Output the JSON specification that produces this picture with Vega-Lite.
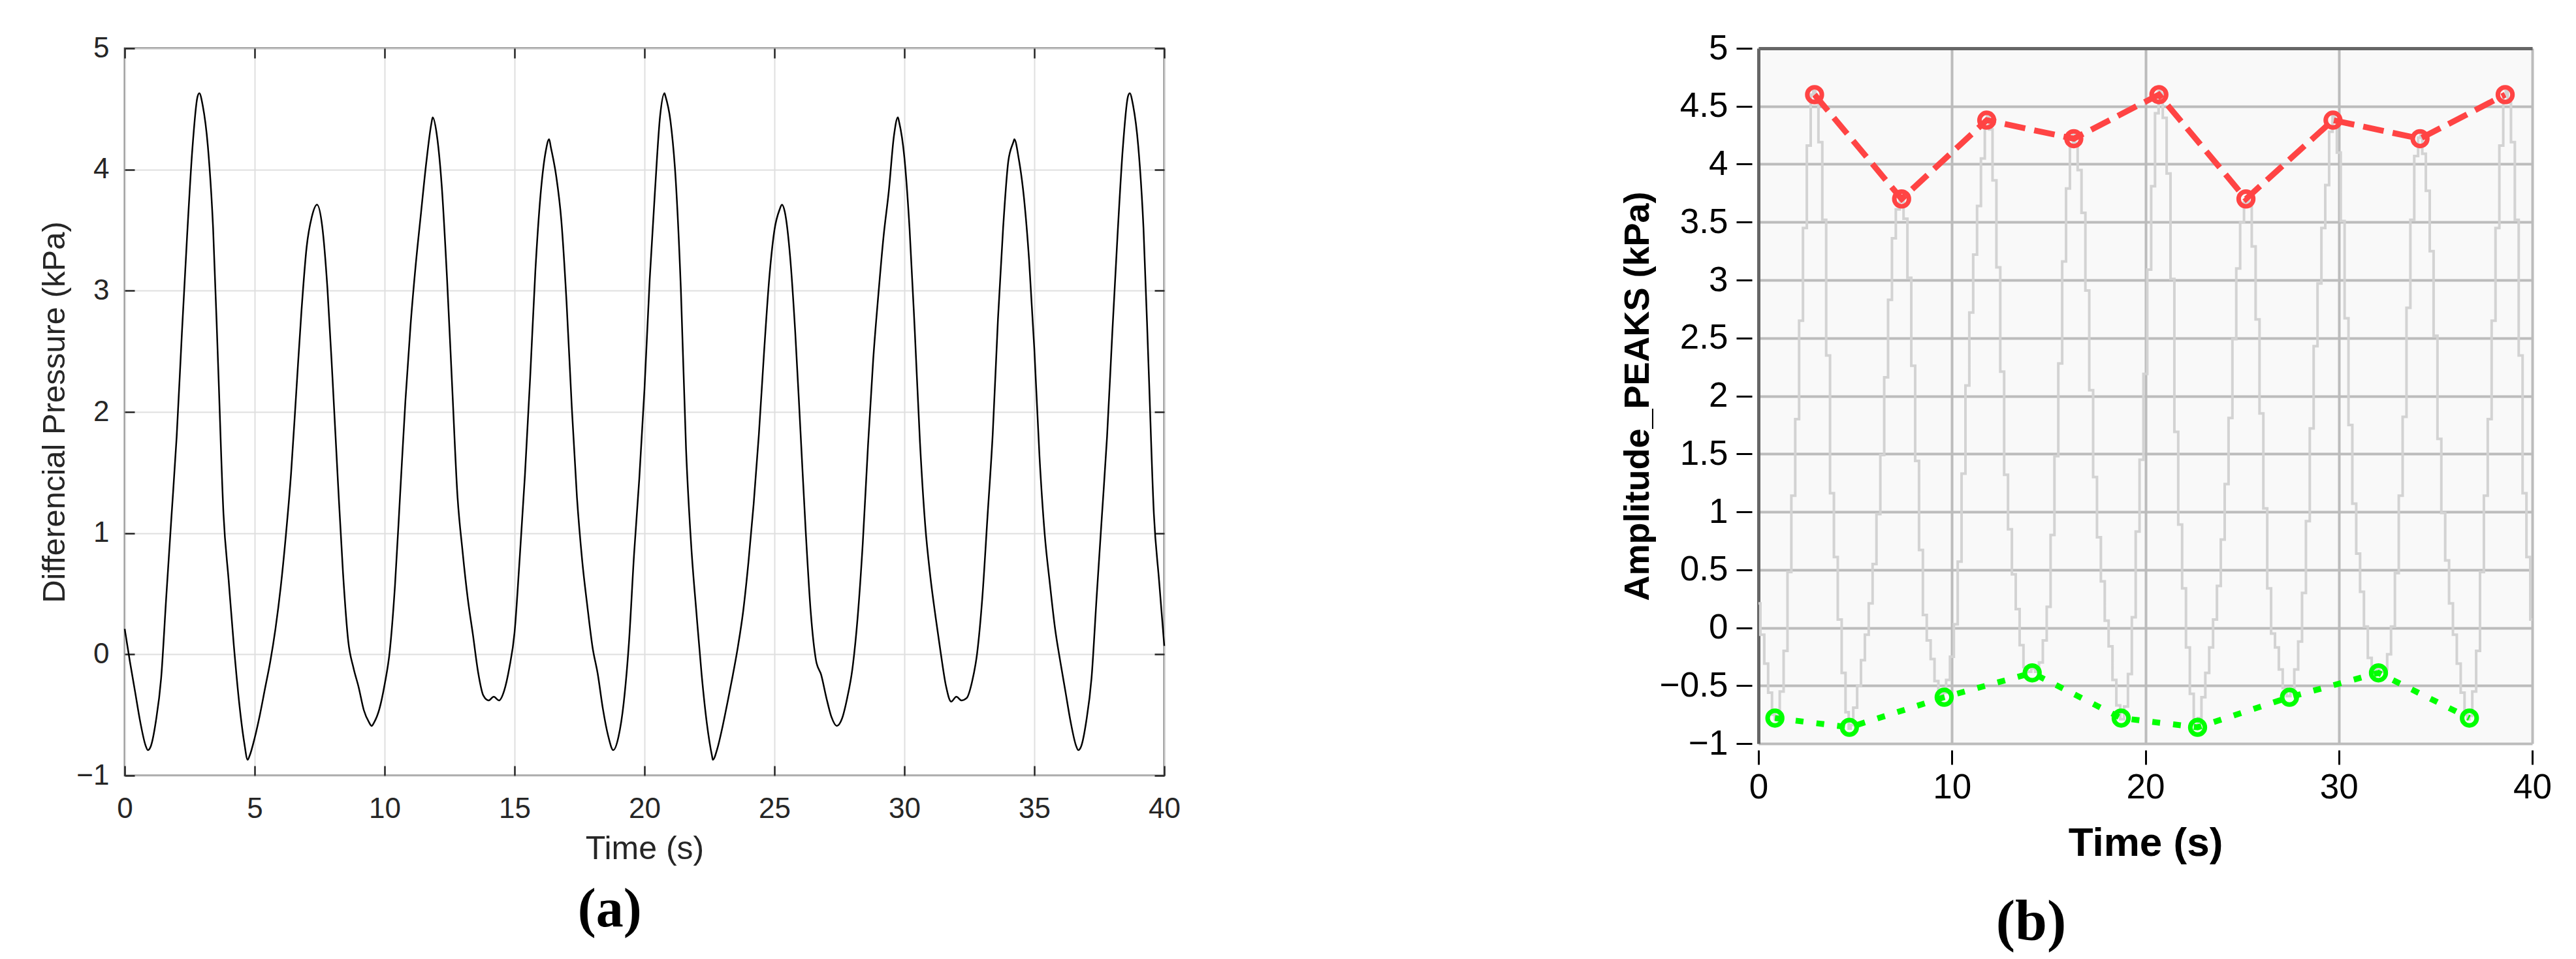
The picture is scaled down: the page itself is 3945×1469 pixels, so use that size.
{
  "$schema": "https://vega.github.io/schema/vega-lite/v6.json",
  "background": "white",
  "padding": {"left": 58, "top": 48, "right": 5, "bottom": 5},
  "datasets": {
    "sig": [
      {"t":0,"v":0.21},{"t":0.2,"v":-0.06},{"t":0.4,"v":-0.31},{"t":0.6,"v":-0.56},{"t":0.8,"v":-0.75},{"t":0.89,"v":-0.79},
      {"t":1.0,"v":-0.76},{"t":1.2,"v":-0.55},{"t":1.4,"v":-0.2},{"t":1.6,"v":0.48},{"t":1.8,"v":1.14},{"t":2.0,"v":1.8},
      {"t":2.2,"v":2.65},{"t":2.4,"v":3.45},{"t":2.6,"v":4.16},{"t":2.8,"v":4.6},{"t":2.87,"v":4.63},{"t":3.0,"v":4.53},
      {"t":3.2,"v":4.19},{"t":3.4,"v":3.52},{"t":3.6,"v":2.35},{"t":3.8,"v":1.16},{"t":4.0,"v":0.61},{"t":4.2,"v":0.07},
      {"t":4.4,"v":-0.39},{"t":4.6,"v":-0.73},{"t":4.73,"v":-0.87},{"t":4.8,"v":-0.84},{"t":5.0,"v":-0.69},{"t":5.2,"v":-0.5},
      {"t":5.4,"v":-0.28},{"t":5.6,"v":-0.06},{"t":5.8,"v":0.21},{"t":6.0,"v":0.55},{"t":6.2,"v":0.98},{"t":6.4,"v":1.49},
      {"t":6.6,"v":2.16},{"t":6.8,"v":2.83},{"t":7.0,"v":3.36},{"t":7.2,"v":3.61},{"t":7.4,"v":3.71},{"t":7.6,"v":3.53},
      {"t":7.8,"v":3.02},{"t":8.0,"v":2.26},{"t":8.2,"v":1.44},{"t":8.4,"v":0.67},{"t":8.6,"v":0.11},{"t":8.8,"v":-0.11},
      {"t":9.0,"v":-0.27},{"t":9.2,"v":-0.46},{"t":9.4,"v":-0.56},{"t":9.5,"v":-0.59},{"t":9.6,"v":-0.56},{"t":9.8,"v":-0.45},
      {"t":10.0,"v":-0.25},{"t":10.2,"v":0.03},{"t":10.4,"v":0.57},{"t":10.6,"v":1.33},{"t":10.8,"v":2.09},{"t":11.0,"v":2.72},
      {"t":11.2,"v":3.22},{"t":11.4,"v":3.64},{"t":11.6,"v":4.05},{"t":11.8,"v":4.38},{"t":11.85,"v":4.43},{"t":12.0,"v":4.3},
      {"t":12.2,"v":3.86},{"t":12.4,"v":3.11},{"t":12.6,"v":2.21},{"t":12.8,"v":1.32},{"t":13.0,"v":0.85},{"t":13.2,"v":0.46},
      {"t":13.4,"v":0.16},{"t":13.6,"v":-0.15},{"t":13.8,"v":-0.34},{"t":14.0,"v":-0.38},{"t":14.2,"v":-0.35},{"t":14.4,"v":-0.38},
      {"t":14.6,"v":-0.3},{"t":14.8,"v":-0.11},{"t":15.0,"v":0.18},{"t":15.2,"v":0.8},{"t":15.4,"v":1.48},{"t":15.6,"v":2.28},
      {"t":15.8,"v":3.16},{"t":16.0,"v":3.79},{"t":16.2,"v":4.15},{"t":16.33,"v":4.25},{"t":16.4,"v":4.18},{"t":16.6,"v":3.95},
      {"t":16.8,"v":3.58},{"t":17.0,"v":2.91},{"t":17.2,"v":2.05},{"t":17.4,"v":1.3},{"t":17.6,"v":0.78},{"t":17.8,"v":0.4},
      {"t":18.0,"v":0.06},{"t":18.2,"v":-0.16},{"t":18.4,"v":-0.45},{"t":18.6,"v":-0.67},{"t":18.8,"v":-0.79},{"t":19.0,"v":-0.68},
      {"t":19.2,"v":-0.4},{"t":19.4,"v":0.09},{"t":19.6,"v":0.83},{"t":19.8,"v":1.45},{"t":20.0,"v":2.19},{"t":20.2,"v":3.09},
      {"t":20.4,"v":3.81},{"t":20.6,"v":4.44},{"t":20.77,"v":4.63},{"t":20.8,"v":4.61},{"t":21.0,"v":4.4},{"t":21.2,"v":3.92},
      {"t":21.4,"v":3.01},{"t":21.6,"v":1.69},{"t":21.8,"v":0.89},{"t":22.0,"v":0.34},{"t":22.2,"v":-0.17},{"t":22.4,"v":-0.57},
      {"t":22.6,"v":-0.84},{"t":22.63,"v":-0.87},{"t":22.8,"v":-0.78},{"t":23.0,"v":-0.6},{"t":23.2,"v":-0.39},{"t":23.4,"v":-0.17},
      {"t":23.6,"v":0.07},{"t":23.8,"v":0.36},{"t":24.0,"v":0.76},{"t":24.2,"v":1.24},{"t":24.4,"v":1.81},{"t":24.6,"v":2.49},
      {"t":24.8,"v":3.1},{"t":25.0,"v":3.5},{"t":25.2,"v":3.67},{"t":25.29,"v":3.71},{"t":25.4,"v":3.65},{"t":25.6,"v":3.29},
      {"t":25.8,"v":2.66},{"t":26.0,"v":1.85},{"t":26.2,"v":1.03},{"t":26.4,"v":0.34},{"t":26.6,"v":-0.05},{"t":26.8,"v":-0.17},
      {"t":27.0,"v":-0.36},{"t":27.2,"v":-0.52},{"t":27.4,"v":-0.59},{"t":27.6,"v":-0.53},{"t":27.8,"v":-0.36},{"t":28.0,"v":-0.12},
      {"t":28.2,"v":0.3},{"t":28.4,"v":0.92},{"t":28.6,"v":1.72},{"t":28.8,"v":2.43},{"t":29.0,"v":2.97},{"t":29.2,"v":3.45},
      {"t":29.4,"v":3.82},{"t":29.6,"v":4.28},{"t":29.75,"v":4.43},{"t":29.8,"v":4.39},{"t":30.0,"v":4.1},{"t":30.2,"v":3.51},
      {"t":30.4,"v":2.67},{"t":30.6,"v":1.75},{"t":30.8,"v":1.07},{"t":31.0,"v":0.64},{"t":31.2,"v":0.31},{"t":31.4,"v":0.01},
      {"t":31.6,"v":-0.26},{"t":31.8,"v":-0.39},{"t":32.0,"v":-0.35},{"t":32.2,"v":-0.38},{"t":32.4,"v":-0.36},{"t":32.6,"v":-0.23},
      {"t":32.8,"v":0.01},{"t":33.0,"v":0.47},{"t":33.2,"v":1.14},{"t":33.4,"v":1.82},{"t":33.6,"v":2.76},{"t":33.8,"v":3.52},
      {"t":34.0,"v":4.07},{"t":34.2,"v":4.23},{"t":34.23,"v":4.25},{"t":34.4,"v":4.09},{"t":34.6,"v":3.77},{"t":34.8,"v":3.25},
      {"t":35.0,"v":2.52},{"t":35.2,"v":1.63},{"t":35.4,"v":0.99},{"t":35.6,"v":0.58},{"t":35.8,"v":0.21},{"t":36.0,"v":-0.06},
      {"t":36.2,"v":-0.31},{"t":36.4,"v":-0.56},{"t":36.6,"v":-0.75},{"t":36.69,"v":-0.79},{"t":36.8,"v":-0.76},{"t":37.0,"v":-0.55},
      {"t":37.2,"v":-0.2},{"t":37.4,"v":0.48},{"t":37.6,"v":1.14},{"t":37.8,"v":1.8},{"t":38.0,"v":2.65},{"t":38.2,"v":3.45},
      {"t":38.4,"v":4.16},{"t":38.6,"v":4.6},{"t":38.67,"v":4.63},{"t":38.8,"v":4.53},{"t":39.0,"v":4.19},{"t":39.2,"v":3.52},
      {"t":39.4,"v":2.35},{"t":39.6,"v":1.16},{"t":39.8,"v":0.61},{"t":40.0,"v":0.07}
    ],
    "peaks": [
      {"t":2.9,"v":4.6},{"t":7.4,"v":3.7},{"t":11.8,"v":4.38},{"t":16.3,"v":4.22},{"t":20.7,"v":4.6},
      {"t":25.2,"v":3.7},{"t":29.7,"v":4.38},{"t":34.2,"v":4.22},{"t":38.6,"v":4.6}
    ],
    "troughs": [
      {"t":0.85,"v":-0.78},{"t":4.7,"v":-0.86},{"t":9.6,"v":-0.6},{"t":14.15,"v":-0.39},{"t":18.75,"v":-0.78},
      {"t":22.7,"v":-0.86},{"t":27.45,"v":-0.6},{"t":32.05,"v":-0.39},{"t":36.75,"v":-0.78}
    ]
  },
  "spacing": 910,
  "bounds": "flush",
  "hconcat": [
    {
      "width": 1592,
      "height": 1114,
      "view": {"stroke": "#262626", "strokeWidth": 2.5, "fill": "white"},
      "title": {"text": "(a)", "orient": "bottom", "frame": "bounds", "anchor": "middle", "offset": 28, "font": "Liberation Serif", "fontSize": 84, "fontWeight": "bold", "color": "black"},
      "layer": [
        {
          "data": {"name": "sig"},
          "mark": {"type": "line", "color": "black", "strokeWidth": 2.5, "interpolate": "monotone"},
          "encoding": {
            "x": {"field": "t", "type": "quantitative", "scale": {"domain": [0, 40], "nice": false, "zero": false},
              "axis": {"orient": "bottom", "values": [0,5,10,15,20,25,30,35,40], "grid": true, "gridColor": "#dfdfdf", "gridWidth": 2, "domain": false, "ticks": true, "tickSize": -15, "tickWidth": 2.5, "tickColor": "#262626", "labelFont": "Liberation Sans", "labelFontSize": 44, "labelColor": "#262626", "labelPadding": 44, "labelFlush": false, "labelOverlap": false, "title": "Time (s)", "titleFont": "Liberation Sans", "titleFontSize": 50, "titleFontWeight": "normal", "titleColor": "#262626", "titlePadding": 14}},
            "y": {"field": "v", "type": "quantitative", "scale": {"domain": [-1, 5], "nice": false, "zero": false},
              "axis": {"orient": "left", "values": [-1,0,1,2,3,4,5], "grid": true, "gridColor": "#dfdfdf", "gridWidth": 2, "domain": false, "ticks": true, "tickSize": -15, "tickWidth": 2.5, "tickColor": "#262626", "labelFont": "Liberation Sans", "labelFontSize": 44, "labelColor": "#262626", "labelPadding": 39, "labelOverlap": false, "title": "Differencial Pressure (kPa)", "titleFont": "Liberation Sans", "titleFontSize": 49, "titleFontWeight": "normal", "titleColor": "#262626", "titlePadding": 8}}
          }
        },
        {
          "data": {"name": "sig"},
          "mark": {"type": "line", "strokeOpacity": 0},
          "encoding": {
            "x": {"field": "t", "type": "quantitative", "scale": {"domain": [0, 40], "nice": false, "zero": false},
              "axis": {"orient": "top", "values": [0,5,10,15,20,25,30,35,40], "labels": false, "title": null, "grid": false, "domain": false, "ticks": true, "tickSize": -15, "tickWidth": 2.5, "tickColor": "#262626"}},
            "y": {"field": "v", "type": "quantitative", "scale": {"domain": [-1, 5], "nice": false, "zero": false},
              "axis": {"orient": "right", "values": [-1,0,1,2,3,4,5], "labels": false, "title": null, "grid": false, "domain": false, "ticks": true, "tickSize": -15, "tickWidth": 2.5, "tickColor": "#262626"}}
          }
        }
      ],
      "resolve": {"axis": {"x": "independent", "y": "independent"}}
    },
    {
      "width": 1185,
      "height": 1065,
      "view": {"stroke": null, "fill": "#f9f9f9"},
      "title": {"text": "(b)", "orient": "bottom", "frame": "group", "anchor": "middle", "dx": -175, "offset": 48, "font": "Liberation Serif", "fontSize": 88, "fontWeight": "bold", "color": "black"},
      "layer": [
        {
          "data": {"name": "sig"},
          "mark": {"type": "line", "color": "#d3d3d3", "strokeWidth": 4, "interpolate": "step"},
          "encoding": {
            "x": {"field": "t", "type": "quantitative", "scale": {"domain": [0, 40], "nice": false, "zero": false},
              "axis": {"orient": "bottom", "offset": 10, "values": [0,10,20,30,40], "grid": false, "domain": false, "ticks": true, "tickSize": 22, "tickWidth": 3, "tickColor": "black", "labelFont": "Liberation Sans", "labelFontSize": 53, "labelColor": "black", "labelPadding": 9, "labelFlush": false, "labelOverlap": false, "title": "Time (s)", "titleFont": "Liberation Sans", "titleFontSize": 62, "titleFontWeight": "bold", "titleColor": "black", "titlePadding": 28}},
            "y": {"field": "v", "type": "quantitative", "scale": {"domain": [-1, 5], "nice": false, "zero": false},
              "axis": {"orient": "left", "offset": 10, "values": [-1,-0.5,0,0.5,1,1.5,2,2.5,3,3.5,4,4.5,5], "format": ".1~f", "grid": false, "domain": false, "ticks": true, "tickSize": 24, "tickWidth": 3, "tickColor": "black", "labelFont": "Liberation Sans", "labelFontSize": 53, "labelColor": "black", "labelPadding": 13, "labelOverlap": false, "title": "Amplitude_PEAKS (kPa)", "titleFont": "Liberation Sans", "titleFontSize": 54, "titleFontWeight": "bold", "titleColor": "black", "titlePadding": 6}}
          }
        },
        {
          "data": {"name": "peaks"},
          "mark": {"type": "line", "color": "#ff4444", "strokeWidth": 9, "strokeDash": [32, 14]},
          "encoding": {
            "x": {"field": "t", "type": "quantitative", "scale": {"domain": [0, 40], "nice": false, "zero": false},
              "axis": {"orient": "top", "values": [0,10,20,30,40], "labels": false, "ticks": false, "title": null, "grid": true, "gridColor": "#bcbcbc", "gridWidth": 4, "domain": true, "domainColor": "#666666", "domainWidth": 5}},
            "y": {"field": "v", "type": "quantitative", "scale": {"domain": [-1, 5], "nice": false, "zero": false},
              "axis": {"orient": "left", "values": [-1,-0.5,0,0.5,1,1.5,2,2.5,3,3.5,4,4.5,5], "labels": false, "ticks": false, "title": null, "grid": true, "gridColor": "#bcbcbc", "gridWidth": 4, "domain": true, "domainColor": "#666666", "domainWidth": 5}}
          }
        },
        {
          "data": {"name": "peaks"},
          "mark": {"type": "point", "shape": "circle", "filled": false, "color": "#ff4444", "strokeWidth": 7, "size": 500, "opacity": 1},
          "encoding": {
            "x": {"field": "t", "type": "quantitative", "axis": null},
            "y": {"field": "v", "type": "quantitative", "axis": null}
          }
        },
        {
          "data": {"name": "troughs"},
          "mark": {"type": "line", "color": "#00ff00", "strokeWidth": 9, "strokeDash": [12, 20]},
          "encoding": {
            "x": {"field": "t", "type": "quantitative", "axis": null},
            "y": {"field": "v", "type": "quantitative", "axis": null}
          }
        },
        {
          "data": {"name": "troughs"},
          "mark": {"type": "point", "shape": "circle", "filled": false, "color": "#00ff00", "strokeWidth": 7, "size": 500, "opacity": 1},
          "encoding": {
            "x": {"field": "t", "type": "quantitative", "axis": null},
            "y": {"field": "v", "type": "quantitative", "axis": null}
          }
        }
      ],
      "resolve": {"axis": {"x": "independent", "y": "independent"}}
    }
  ],
  "config": {"font": "Liberation Sans"}
}
